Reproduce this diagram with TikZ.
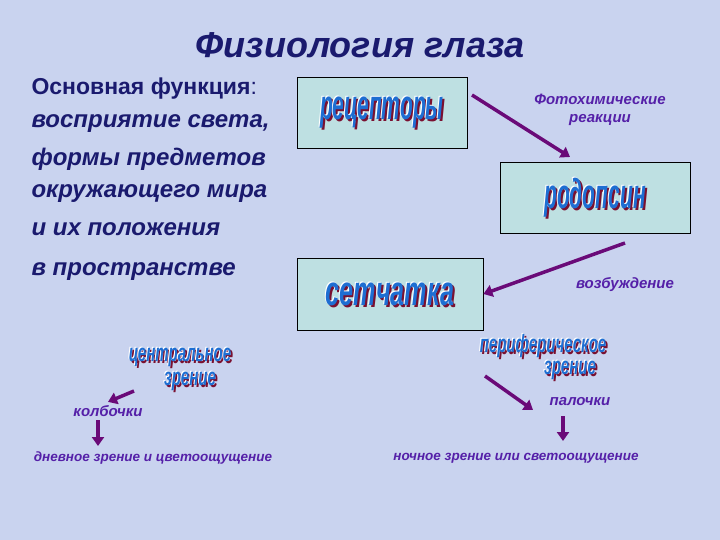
\documentclass[tikz,border=0pt]{standalone}
\usepackage{fontspec}
\setmainfont{Liberation Sans}
\usetikzlibrary{arrows.meta}
\definecolor{bg}{HTML}{C9D3EF}
\definecolor{boxf}{HTML}{BEE0E2}
\definecolor{arr}{HTML}{6A0A78}
\definecolor{navy}{HTML}{1A1A6E}
\definecolor{lbl}{HTML}{5520A8}
\definecolor{wa}{HTML}{1E6ED2}
\definecolor{sh}{HTML}{7A1030}
\tikzset{
 box/.style={draw=black,fill=boxf,line width=0.8pt},
 con/.style={draw=arr,line width=3.5pt,-{Triangle[length=9pt,width=12pt]}},
 lab/.style={text=lbl,font=\bfseries\itshape\fontsize{15}{18}\selectfont},
 left/.style={text=navy,font=\bfseries\itshape\fontsize{24}{28}\selectfont,anchor=west},
}
\newcommand{\wart}[4]{% coordinate name, text, size, xscale
 \node[text=sh,xscale=#4,font=\bfseries\itshape\fontsize{#3}{#3}\selectfont] at ([shift={(2,2)}]#1) {#2};
 \node[text=white,xscale=#4,font=\bfseries\itshape\fontsize{#3}{#3}\selectfont] at ([shift={(-1,-1)}]#1) {#2};
 \node[text=wa,xscale=#4,font=\bfseries\itshape\fontsize{#3}{#3}\selectfont] at (#1) {#2};}
\begin{document}
\begin{tikzpicture}[x=1pt,y=-1pt]
\fill[bg] (0,0) rectangle (720,540);
\useasboundingbox (0,0) rectangle (720,540);
\node[text=navy,font=\bfseries\itshape\fontsize{36}{40}\selectfont] (title) at (360,45) {Физиология глаза};
\node[left,font=\bfseries\fontsize{23}{28}\selectfont] (f1) at (28,89) {Основная функция\mdseries:};
\node[left] (f2) at (28,124) {восприятие света,};
\node[left] (f3) at (28,159) {формы предметов};
\node[left] (f4) at (28,194) {окружающего мира};
\node[left] (f5) at (28,229) {и их положения};
\node[left] (f6) at (28,272) {в пространстве};
\node[box,minimum width=170,minimum height=71] (rec) at (382,112.5) {};
\node[box,minimum width=190,minimum height=71] (rod) at (595,197.5) {};
\node[box,minimum width=186,minimum height=72] (set) at (390,294) {};
\wart{rec.center}{рецепторы}{42}{0.5}
\wart{rod.center}{родопсин}{42}{0.5}
\wart{set.center}{сетчатка}{42}{0.6}
\coordinate (c1) at (180,357); \coordinate (c2) at (190,381);
\coordinate (p1) at (543,346); \coordinate (p2) at (570,370);
\wart{c1}{центральное}{25}{0.6}
\wart{c2}{зрение}{25}{0.6}
\wart{p1}{периферическое}{25}{0.6}
\wart{p2}{зрение}{25}{0.6}
\node[lab,align=center] (foto) at (600,110) {Фотохимические\\реакции};
\node[lab] (voz) at (625,285) {возбуждение};
\node[lab] (kol) at (108,411) {колбочки};
\node[lab] (pal) at (580,402) {палочки};
\node[lab,font=\bfseries\itshape\fontsize{13.5}{16}\selectfont] (den) at (153,458) {дневное зрение и цветоощущение};
\node[lab,font=\bfseries\itshape\fontsize{13.5}{16}\selectfont] (noch) at (516,458) {ночное зрение или светоощущение};
\coordinate (a1) at (472,95); \coordinate (a2) at (625,243);
\coordinate (a3) at (134,391); \coordinate (a4) at (485,376);
\coordinate (b1) at (570,157); \coordinate (b4) at (533,410);
\coordinate (d1) at (98,420); \coordinate (d2) at (98,446);
\coordinate (e1) at (563,416); \coordinate (e2) at (563,441);
\draw[con] (a1) -- (b1);
\draw[con] (a2) -- (set.east);
\draw[con] (a3) -- (kol.north);
\draw[con] (a4) -- (b4);
\draw[con] (d1) -- (d2);
\draw[con] (e1) -- (e2);
\end{tikzpicture}
\end{document}
